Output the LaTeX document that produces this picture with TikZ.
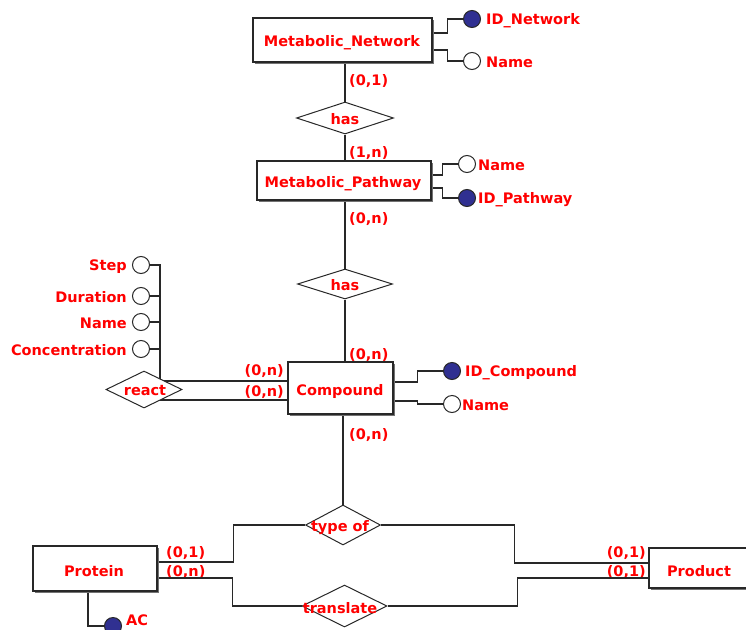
\documentclass[tikz,border=0pt]{standalone}
\usepackage{fontspec}
\setmainfont{DejaVu Sans}
\usetikzlibrary{shapes.geometric,shadows,backgrounds}
\definecolor{erred}{RGB}{255,0,0}
\definecolor{erline}{RGB}{40,40,40}
\definecolor{keyblue}{RGB}{48,48,145}
\tikzset{
  lab/.style={text=erred, font=\fontsize{14.5}{16}\selectfont\bfseries, inner sep=0pt, yshift=-1.5pt},
  card/.style={lab},
  cardbox/.style={lab, fill=white},
  entity/.style={draw=erline, line width=1.2pt, fill=white, rectangle, inner sep=0pt,
    drop shadow={shadow xshift=2pt, shadow yshift=-2pt, fill=black!55, opacity=1}},
  rel/.style={draw=erline, line width=1pt, fill=white, diamond, inner sep=0pt},
  attr/.style={draw=erline, line width=1pt, fill=white, circle, minimum size=17pt, inner sep=0pt},
  keyattr/.style={attr, fill=keyblue},
  conn/.style={draw=erline, line width=1.4pt},
}
\begin{document}
\begin{tikzpicture}[x=1pt,y=-1pt]
\useasboundingbox (0,0) rectangle (746,629);

% entities
\node[entity, minimum width=179pt, minimum height=44pt] (mn) at (342.5,40) {};
\node[lab] (mnt) at (342,41) {Metabolic\_Network};
\node[entity, minimum width=174pt, minimum height=39pt] (mp) at (344,180.5) {};
\node[lab] (mpt) at (343,182) {Metabolic\_Pathway};
\node[entity, minimum width=105pt, minimum height=52pt] (cp) at (340.5,388) {};
\node[lab] (cpt) at (340,390) {Compound};
\node[entity, minimum width=124pt, minimum height=45pt] (pr) at (95,568.5) {};
\node[lab] (prt) at (94,570) {Protein};
\node[entity, minimum width=100pt, minimum height=40pt] (pd) at (699,568) {};
\node[lab] (pdt) at (699,570) {Product};

% relationships
\node[rel, minimum width=97pt, minimum height=32pt] (has1) at (345,118) {};
\node[lab] (has1t) at (has1) {has};
\node[rel, minimum width=95pt, minimum height=30pt] (has2) at (345,284) {};
\node[lab] (has2t) at (has2) {has};
\node[rel, minimum width=76pt, minimum height=37pt] (react) at (144,389.5) {};
\node[lab] (reactt) at (145,389) {react};
\node[rel, minimum width=75pt, minimum height=40pt] (typeof) at (343,525) {};
\node[lab] (typeoft) at (340,526) {type of};
\node[rel, minimum width=85pt, minimum height=42pt] (tr) at (344.5,606) {};
\node[lab] (trt) at (340,607) {translate};

% attributes
\node[keyattr] (idn) at (472,19) {};
\node[lab, anchor=west] at (486,19) {ID\_Network};
\node[attr] (mnname) at (472,61) {};
\node[lab, anchor=west] at (486,61) {Name};

\node[attr] (mpname) at (467,164) {};
\node[lab, anchor=west] at (478,164) {Name};
\node[keyattr] (idp) at (467,198) {};
\node[lab, anchor=west] at (478,198) {ID\_Pathway};

\node[keyattr] (idc) at (452,371) {};
\node[lab, anchor=west] at (465,371) {ID\_Compound};
\node[attr] (cpname) at (452,404) {};
\node[lab, anchor=west] at (462,404) {Name};

\node[attr] (step) at (141,265) {};
\node[lab, anchor=east] at (127,265) {Step};
\node[attr] (dur) at (141,296) {};
\node[lab, anchor=east] at (127,296) {Duration};
\node[attr] (rname) at (141,322) {};
\node[lab, anchor=east] at (127,322) {Name};
\node[attr] (conc) at (141,349) {};
\node[lab, anchor=east] at (127,349) {Concentration};

\node[keyattr] (ac) at (113,626) {};
\node[lab, anchor=west] at (126,619) {AC};

\coordinate (rj) at (160,381);

\begin{pgfonlayer}{background}
  \fill[white] (0,0) rectangle (746,629);
  % cardinalities (the connectors run over them; an upper label masks the one below it)
  \node[card, anchor=west] at (349,80) {(0,1)};
  \node[card, anchor=west] at (349,152) {(1,n)};
  \node[card, anchor=west] at (349,218) {(0,n)};
  \node[card, anchor=west] at (349,354) {(0,n)};
  \node[card, anchor=west] at (349,434) {(0,n)};
  \node[card, anchor=east] at (284,391) {(0,n)};
  \node[cardbox, anchor=east] at (284,370) {(0,n)};
  \node[card, anchor=west] at (166,571) {(0,n)};
  \node[cardbox, anchor=west] at (166,552) {(0,1)};
  \node[card, anchor=east] at (646,571) {(0,1)};
  \node[cardbox, anchor=east] at (646,552) {(0,1)};

  % relationship links
  \draw[conn] (has1.north) -- (has1.north |- mn.south);
  \draw[conn] (has1.south) -- (has1.south |- mp.north);
  \draw[conn] (has2.north) -- (has2.north |- mp.south);
  \draw[conn] (has2.south) -- (has2.south |- cp.north);
  \draw[conn] (typeof.north) -- (typeof.north |- cp.south);
  \draw[conn] (rj) -- ([yshift=7pt]cp.west);
  \draw[conn] ([yshift=-12pt]cp.west) -- ([yshift=-12pt]cp.west -| react.center);
  \draw[conn] ([yshift=6.5pt]pr.east) -- ++(76,0) |- (typeof);
  \draw[conn] ([yshift=-9.5pt]pr.east) -- ++(75,0) |- (tr);
  \draw[conn] ([yshift=5pt]pd.west) -- ++(-134,0) |- (typeof);
  \draw[conn] ([yshift=-10pt]pd.west) -- ++(-131,0) |- (tr);

  % attribute links
  \draw[conn] ([yshift=7pt]mn.east) -- ++(15,0) |- (idn);
  \draw[conn] ([yshift=-10pt]mn.east) -- ++(15,0) |- (mnname);
  \draw[conn] ([yshift=5.5pt]mp.east) -- ++(11,0) |- (mpname);
  \draw[conn] ([yshift=-7.5pt]mp.east) -- ++(11,0) |- (idp);
  \draw[conn] ([yshift=6pt]cp.east) -- ++(24,0) |- (idc);
  \draw[conn] ([yshift=-13pt]cp.east) -- ++(24,0) |- (cpname);
  \draw[conn] (step) -| (rj);
  \draw[conn] (dur) -- (dur -| rj);
  \draw[conn] (rname) -- (rname -| rj);
  \draw[conn] (conc) -- (conc -| rj);
  \draw[conn] (ac.west) -- ++(-16,0) |- (pr.south);
\end{pgfonlayer}
\end{tikzpicture}
\end{document}
